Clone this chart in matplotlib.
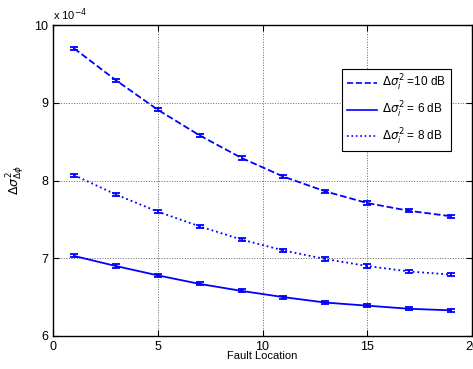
import matplotlib
matplotlib.use("Agg")
import matplotlib.pyplot as plt
from matplotlib.lines import Line2D

# fault locations and variance (x 1e-4)
loc = [1, 3, 5, 7, 9, 11, 13, 15, 17, 19]
var_10db = [9.70, 9.29, 8.91, 8.58, 8.29, 8.05, 7.86, 7.71, 7.61, 7.54]
var_6db = [7.03, 6.90, 6.78, 6.67, 6.58, 6.50, 6.43, 6.39, 6.35, 6.33]
var_8db = [8.07, 7.82, 7.60, 7.41, 7.24, 7.10, 6.99, 6.90, 6.83, 6.79]
err = [0.02] * len(loc)
labels = [r"$\Delta\sigma^2_i$ =10 dB", r"$\Delta\sigma^2_i$ = 6 dB", r"$\Delta\sigma^2_i$ = 8 dB"]
styles = ["--", "-", ":"]

plt.rcParams["font.family"] = ["Liberation Sans", "DejaVu Sans"]
fig = plt.figure(figsize=(4.73, 3.69), dpi=100)
ax = fig.add_axes([53 / 473, 33 / 369, 419 / 473, 311 / 369])

blue = "#0000ff"
for y, ls in zip([var_10db, var_6db, var_8db], styles):
    ax.errorbar(loc, y, yerr=err, ls=ls, color=blue, lw=1.3, capsize=3,
                elinewidth=1.3, capthick=1.3)

ax.set_xlim(0, 20)
ax.set_ylim(6, 10)
ax.set_xticks([0, 5, 10, 15, 20])
ax.set_yticks([6, 7, 8, 9, 10])
ax.tick_params(direction="in", top=True, right=True, labelsize=9, length=4)
ax.grid(True, color="#666666", ls=":", lw=0.7)
for s in ax.spines.values():
    s.set_linewidth(1.0)
ax.set_xlabel("Fault Location", fontsize=8, labelpad=-1)
ax.set_ylabel(r"$\Delta\sigma^2_{\Delta\phi}$", fontsize=9, labelpad=5)
ax.text(0.0, 1.005, r"x 10$^{-4}$", transform=ax.transAxes, fontsize=8, va="bottom", ha="left")

handles = [Line2D([], [], color=blue, ls=ls, lw=1.2) for ls in styles]
leg = ax.legend(handles, labels, loc="upper left", bbox_to_anchor=(289 / 419, 0.86), fontsize=8.5,
                frameon=True, fancybox=False, edgecolor="black", framealpha=1, handlelength=2.6,
                borderpad=0.4, labelspacing=0.55, handletextpad=0.4, borderaxespad=0)
leg.get_frame().set_linewidth(0.8)

fig.savefig("out.png", dpi=100)
